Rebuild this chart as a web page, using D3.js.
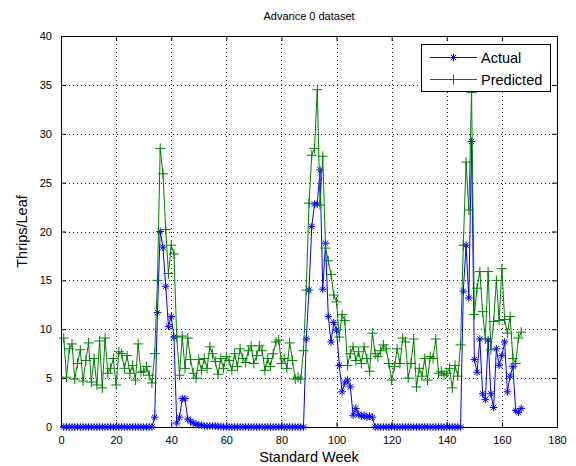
<!DOCTYPE html>
<html>
<head>
<meta charset="utf-8">
<script src="https://cdn.jsdelivr.net/npm/d3@7"></script>
<style>
body { margin: 0; background: #fff; }
text { font-family: "Liberation Sans", Arial, sans-serif; }
</style>
</head>
<body>
<svg id="chart" width="576" height="466"></svg>
<script>
// weekly values
var actual = [
	0,0,0,0,0,0,0,0,0,0, 0,0,0,0,0,0,0,0,0,0,
	0,0,0,0,0,0,0,0,0,0, 0,0,0,1.0,11.7,20.0,18.4,14.4,10.3,11.3,
	9.2,0.4,1.0,2.9,2.9,0.8,0.6,0.4,0.3,0.2, 0.2,0.1,0.1,0.1,0.1,0.1,0.05,0.05,0,0,
	0,0,0,0,0,0,0,0,0,0, 0,0,0,0,0,0,0,0,0,0,
	0,0,0,0,0,0,0,0,9.0,14.0, 20.5,22.8,22.8,26.3,14.1,18.8,11.3,8.7,10.7,9.9,
	6.3,3.6,4.5,4.8,4.1,1.2,1.9,1.3,1.1,1.2, 1.0,1.1,1.0,0,0,0,0,0,0,0,
	0,0,0,0,0,0,0,0,0,0, 0,0,0,0,0,0,0,0,0,0,
	0,0,0,0,0,13.9,18.6,13.2,29.2,6.9, 5.6,9.0,3.4,2.8,8.9,3.4,2.0,8.0,6.3,7.3,
	8.7,3.6,5.2,6.2,1.7,1.5,1.9
];
var predicted = [
	9.1,5.1,8.0,8.5,4.9,6.5,7.9,4.7,6.8,8.6, 4.6,7.0,4.3,8.8,4.0,9.1,5.5,6.0,7.0,4.3,
	7.7,7.5,6.0,7.3,5.5,6.3,4.8,8.5,5.6,5.7, 6.2,5.3,4.5,7.5,15.0,28.5,25.9,20.2,15.7,18.6,
	17.7,9.2,5.3,9.3,6.0,9.1,6.9,5.5,5.0,6.9, 5.8,7.0,6.0,8.2,7.5,6.7,5.4,7.0,6.0,7.2,
	6.8,5.8,7.5,6.2,8.0,7.0,6.6,7.8,8.3,6.5, 7.3,8.3,7.8,5.8,7.0,6.2,7.5,8.7,8.9,6.5,
	7.0,6.0,8.6,6.8,4.9,5.1,4.9,7.8,14.0,22.9, 27.8,28.5,34.5,22.7,27.7,18.3,17.0,15.6,13.5,12.8,
	9.2,11.5,10.9,6.3,7.5,8.2,6.8,7.7,6.5,8.2, 7.0,5.7,9.6,7.5,7.2,7.8,8.4,8.0,6.5,4.8,
	6.2,8.0,6.5,9.1,8.7,5.0,6.5,9.0,4.1,6.0, 5.2,7.0,4.8,7.2,7.0,9.0,5.5,5.7,5.3,5.5,
	6.0,4.0,6.3,5.2,8.4,18.6,27.1,22.2,34.2,11.5, 14.2,15.9,11.8,9.0,15.9,7.9,10.8,15.0,10.9,16.2,
	11.0,9.6,11.3,7.0,6.5,9.1,9.7
];
var weeks = d3.range(1, actual.length + 1);
var xTicks = d3.range(0, 181, 20);
var yTicks = d3.range(0, 41, 5);
var seriesNames = ["Actual", "Predicted"];

var plotLeft = 61, plotRight = 557, plotTop = 36, plotBottom = 427;
var svg = d3.select("#chart");

var x = d3.scaleLinear().domain([0, 180]).range([plotLeft, plotRight]);
var y = d3.scaleLinear().domain([0, 40]).range([plotBottom, plotTop]);

// grid
var grid = svg.append("g")
	.attr("stroke", "#222")
	.attr("stroke-width", 1)
	.attr("stroke-dasharray", "1,3");
grid.selectAll(".gx").data(xTicks.slice(1, -1)).enter().append("line")
	.attr("x1", d => Math.round(x(d)) + 0.5).attr("x2", d => Math.round(x(d)) + 0.5)
	.attr("y1", plotTop).attr("y2", plotBottom);
grid.selectAll(".gy").data(yTicks.slice(1, -1)).enter().append("line")
	.attr("y1", d => Math.round(y(d)) + 0.5).attr("y2", d => Math.round(y(d)) + 0.5)
	.attr("x1", plotLeft).attr("x2", plotRight);

// axes, ticks pointing inward like matlab
function styleAxis(g) {
	g.select(".domain").remove();
	g.selectAll("line").attr("stroke", "#000");
	g.selectAll("text").attr("fill", "#000").style("font-size", "11px");
}
svg.append("g").attr("transform", "translate(0," + plotBottom + ")")
	.call(d3.axisBottom(x).tickValues(xTicks).tickSizeInner(-5).tickPadding(9))
	.call(styleAxis);
svg.append("g").attr("transform", "translate(0," + plotTop + ")")
	.call(d3.axisTop(x).tickValues(xTicks).tickSizeInner(-5).tickFormat(""))
	.call(styleAxis);
svg.append("g").attr("transform", "translate(" + plotLeft + ",0)")
	.call(d3.axisLeft(y).tickValues(yTicks).tickSizeInner(-5).tickPadding(9))
	.call(styleAxis);
svg.append("g").attr("transform", "translate(" + plotRight + ",0)")
	.call(d3.axisRight(y).tickValues(yTicks).tickSizeInner(-5).tickFormat(""))
	.call(styleAxis);

svg.append("rect")
	.attr("x", plotLeft + 0.5).attr("y", plotTop + 0.5)
	.attr("width", plotRight - plotLeft).attr("height", plotBottom - plotTop)
	.attr("fill", "none").attr("stroke", "#000");

// markers
function starPath(s) {
	return "M" + (-s) + ",0H" + s + "M0," + (-s) + "V" + s +
		"M" + (-s * 0.7) + "," + (-s * 0.7) + "L" + (s * 0.7) + "," + (s * 0.7) +
		"M" + (-s * 0.7) + "," + (s * 0.7) + "L" + (s * 0.7) + "," + (-s * 0.7);
}
function plusPath(s) {
	return "M" + (-s) + ",0H" + s + "M0," + (-s) + "V" + s;
}

var line = d3.line().x((d, i) => x(weeks[i])).y(d => y(d));

function drawSeries(values, color, marker) {
	var g = svg.append("g");
	g.append("path")
		.attr("d", line(values))
		.attr("fill", "none")
		.attr("stroke", color)
		.attr("stroke-width", 1);
	g.selectAll("path.m").data(values).enter().append("path")
		.attr("class", "m")
		.attr("transform", (d, i) => "translate(" + x(weeks[i]) + "," + y(d) + ")")
		.attr("d", marker)
		.attr("fill", "none")
		.attr("stroke", color)
		.attr("stroke-width", 1);
}

// plotted in legend order, so predicted lies on top
drawSeries(actual, "#0000ff", starPath(3.8));
drawSeries(predicted, "#008000", plusPath(5));

// legend
var legend = svg.append("g");
legend.append("rect")
	.attr("x", 421.5).attr("y", 44.5).attr("width", 129).attr("height", 47)
	.attr("fill", "#fff").attr("stroke", "#000");
var legendColors = ["#0000ff", "#008000"];
var legendMarkers = [starPath(3.8), plusPath(5)];
seriesNames.forEach(function (name, i) {
	var ly = 57.5 + i * 22;
	legend.append("line")
		.attr("x1", 430).attr("x2", 477).attr("y1", ly).attr("y2", ly)
		.attr("stroke", legendColors[i]);
	legend.append("path")
		.attr("transform", "translate(453.5," + ly + ")")
		.attr("d", legendMarkers[i])
		.attr("fill", "none").attr("stroke", legendColors[i]);
	legend.append("text")
		.attr("x", 481).attr("y", ly + 5)
		.style("font-size", "14.5px")
		.text(name);
});

// labels
svg.append("text")
	.attr("x", (plotLeft + plotRight) / 2).attr("y", 20)
	.attr("text-anchor", "middle")
	.style("font-size", "11px")
	.text("Advance 0 dataset");
svg.append("text")
	.attr("x", (plotLeft + plotRight) / 2).attr("y", 462)
	.attr("text-anchor", "middle")
	.style("font-size", "14.5px")
	.text("Standard Week");
svg.append("text")
	.attr("transform", "translate(27," + (plotTop + plotBottom) / 2 + ") rotate(-90)")
	.attr("text-anchor", "middle")
	.style("font-size", "14.5px")
	.text("Thrips/Leaf");
</script>
</body>
</html>
